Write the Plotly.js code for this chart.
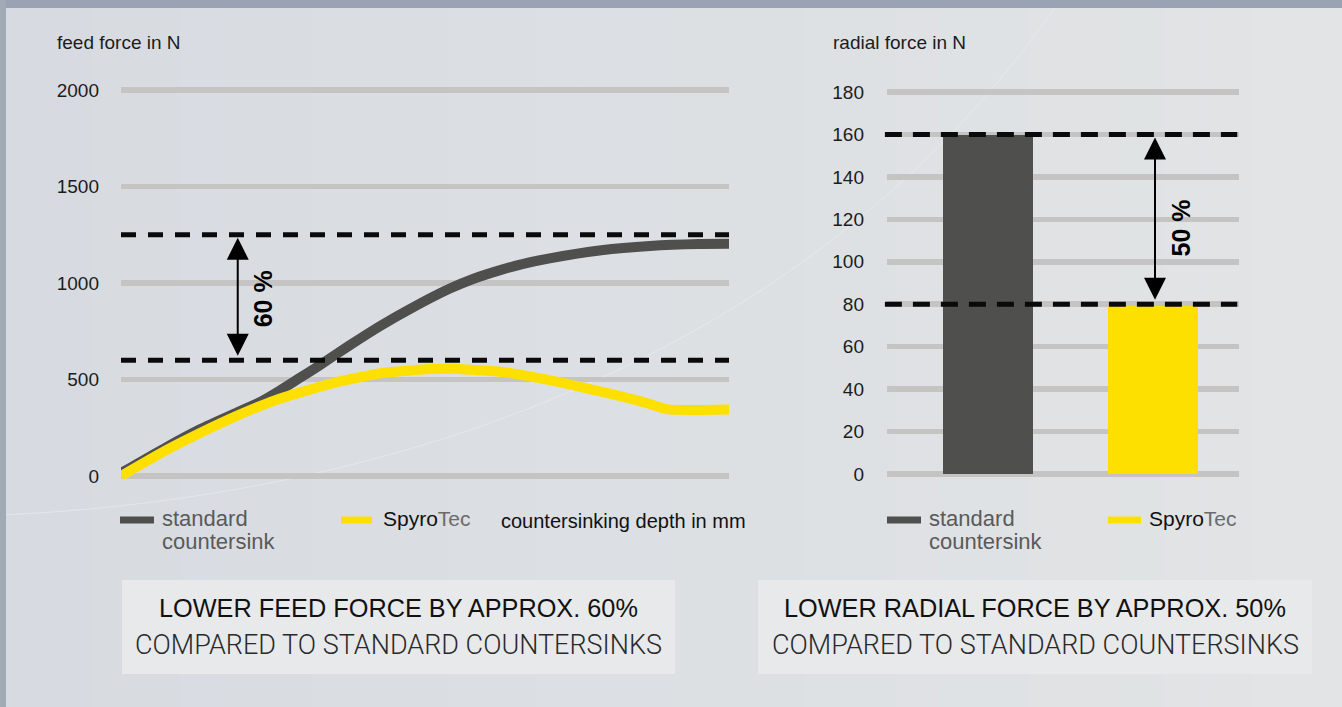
<!DOCTYPE html>
<html>
<head>
<meta charset="utf-8">
<script src="https://cdn.plot.ly/plotly-3.0.1.min.js"></script>
<style>
html,body{margin:0;padding:0;background:#dcdfe3;overflow:hidden;}
#chart{width:1342px;height:707px;}
</style>
</head>
<body>
<div id="chart"></div>
<script>
// ---------------- DATA ----------------
// Feed force vs countersinking depth (mm)
const depthStandard = [0, 0.75, 1.3, 1.95, 2.3, 2.6, 2.95, 3.25, 3.75, 4.25, 4.75, 5.4, 5.8, 6.25, 6.6, 7.05, 7.9, 8.7, 9.5, 10];
const feedStandard  = [15, 150, 242, 335, 385, 440, 510, 570, 675, 775, 865, 970, 1022, 1068, 1098, 1128, 1170, 1192, 1202, 1203];
const depthSpyro    = [0, 0.75, 1.3, 1.95, 2.55, 3.5, 4.3, 5.1, 5.4, 6.25, 7.05, 7.9, 8.4, 8.7, 9.0, 10];
const feedSpyro     = [0, 135, 223, 318, 394, 483, 534, 554, 556, 540, 497, 437, 399, 373, 345, 345];
const feedTicks     = [0, 500, 1000, 1500, 2000];
const feedRefLines  = [1250, 600];
const feedReduction = '60 %';

// Radial force bars
const radialCategories = ['standard countersink', 'SpyroTec'];
const radialValues     = [159.5, 79];
const radialTicks      = [0, 20, 40, 60, 80, 100, 120, 140, 160, 180];
const radialRefLines   = [160, 80];
const radialReduction  = '50 %';

// Texts
const feedAxisTitle   = 'feed force in N';
const radialAxisTitle = 'radial force in N';
const depthAxisTitle  = 'countersinking depth in mm';
const legendStandard  = ['standard', 'countersink'];
const legendSpyro     = 'Spyro<span style="color:#6b6b6b;font-weight:300">Tec</span>';
const feedBoxLines    = ['LOWER FEED FORCE BY APPROX. 60%', 'COMPARED TO STANDARD COUNTERSINKS'];
const radialBoxLines  = ['LOWER RADIAL FORCE BY APPROX. 50%', 'COMPARED TO STANDARD COUNTERSINKS'];

// ---------------- STYLE / LAYOUT ----------------
const W = 1342, H = 707;
const PX = x => x / W;          // pixel x -> paper
const PY = y => 1 - y / H;      // pixel y -> paper
const GRAY = '#4f4f4d', YELLOW = '#fde000';
const FONT = 'Liberation Sans, Arial, Helvetica, sans-serif';
const LIGHT = 'Roboto, Liberation Sans, sans-serif';
const GRID = '#c6c4c2';

const traces = [
  {type:'scatter', mode:'lines', x:depthStandard, y:feedStandard, xaxis:'x', yaxis:'y',
   line:{color:GRAY, width:10, shape:'spline', smoothing:0.6}, hoverinfo:'skip', showlegend:false},
  {type:'scatter', mode:'lines', x:depthSpyro, y:feedSpyro, xaxis:'x', yaxis:'y',
   line:{color:YELLOW, width:10, shape:'spline', smoothing:0.5}, hoverinfo:'skip', showlegend:false},
  {type:'bar', x:radialCategories, y:radialValues, xaxis:'x2', yaxis:'y2', width:0.545,
   marker:{color:[GRAY, YELLOW], line:{width:0}}, hoverinfo:'skip', showlegend:false}
];

const yDomain = [PY(495.3), PY(70.7)];
const axisY = {
  showline:false, zeroline:false, ticks:'', gridcolor:GRID, gridwidth:5.5,
  tickfont:{family:FONT, size:19, color:'#1c1c1c'}, fixedrange:true
};

const shapes = [];
const annotations = [];

// subtle background gradient (left bluish -> right lighter)
const NSTEP = 30, c0 = [215, 219, 225], c1 = [226, 228, 229];
for (let i = 0; i < NSTEP; i++) {
  const t = i / (NSTEP - 1);
  const c = c0.map((v, k) => Math.round(v + (c1[k] - v) * t));
  shapes.push({type:'rect', xref:'paper', yref:'paper', x0:i / NSTEP, x1:(i + 1) / NSTEP + 0.001, y0:0, y1:1,
    fillcolor:`rgb(${c.join(',')})`, line:{width:0}, layer:'below'});
}

// faint decorative arc
shapes.push({type:'path', xref:'paper', yref:'paper', layer:'below',
  path:`M ${PX(0)},${PY(515)} C ${PX(350)},${PY(500)} ${PX(800)},${PY(380)} ${PX(1060)},${PY(0)}`,
  line:{color:'rgba(240,243,247,0.45)', width:1}});

// frame border
shapes.push({type:'rect', xref:'paper', yref:'paper', x0:0, x1:1, y0:PY(8), y1:1, fillcolor:'#99a3b3', line:{width:0}, layer:'above'});
shapes.push({type:'rect', xref:'paper', yref:'paper', x0:0, x1:PX(6), y0:0, y1:1, fillcolor:'#a2aab8', line:{width:0}, layer:'above'});

// info boxes
[[122, 675], [758, 1312]].forEach(([a, b]) => {
  shapes.push({type:'rect', xref:'paper', yref:'paper', x0:PX(a), x1:PX(b), y0:PY(674), y1:PY(580),
    fillcolor:'#e8e9ea', line:{width:0}, layer:'below'});
});

// dashed reference lines
feedRefLines.forEach(v => shapes.push({type:'line', xref:'x domain', yref:'y', x0:0, x1:1, y0:v, y1:v,
  line:{color:'#0a0a0a', width:5, dash:'15px,12px'}, layer:'above'}));
radialRefLines.forEach(v => shapes.push({type:'line', xref:'x2 domain', yref:'y2', x0:-0.006, x1:0.995, y0:v, y1:v,
  line:{color:'#0a0a0a', width:5, dash:'17px,11px'}, layer:'above'}));

// arrows
function arrow(xr, yr, x, top, bottom) {
  annotations.push({xref:xr, yref:yr, axref:xr, ayref:yr, x:x, y:top, ax:x, ay:bottom, text:'',
    showarrow:true, arrowhead:2, startarrowhead:2, arrowside:'end+start', arrowsize:2.2, startarrowsize:2.2,
    arrowwidth:2, arrowcolor:'#000', standoff:3, startstandoff:3});
}
arrow('x', 'y', 1.92, feedRefLines[0], feedRefLines[1]);
arrow('x2', 'y2', 1.012, radialRefLines[0], radialRefLines[1]);
annotations.push({xref:'x', yref:'y', x:2.34, y:917, text:'<b>'+feedReduction+'</b>', textangle:-90, showarrow:false,
  font:{family:FONT, size:25, color:'#000'}});
annotations.push({xref:'x2', yref:'y2', x:1.167, y:116, text:'<b>'+radialReduction+'</b>', textangle:-90, showarrow:false,
  font:{family:FONT, size:25, color:'#000'}});

// axis titles
function label(x, y, text, size, color, anchor, extra) {
  annotations.push(Object.assign({xref:'paper', yref:'paper', x:PX(x), y:PY(y), text:text, showarrow:false,
    xanchor:anchor || 'left', yanchor:'middle', font:{family:FONT, size:size, color:color}}, extra || {}));
}
label(55, 42, feedAxisTitle, 19, '#1c1c1c');
label(831, 42, radialAxisTitle, 19, '#1c1c1c');
label(499, 521, depthAxisTitle, 20, '#111');

// legends
function legend(swX0, swX1, textX, spyroSwX0, spyroSwX1, spyroTextX) {
  shapes.push({type:'line', xref:'paper', yref:'paper', x0:PX(swX0), x1:PX(swX1), y0:PY(520), y1:PY(520),
    line:{color:GRAY, width:7}});
  shapes.push({type:'line', xref:'paper', yref:'paper', x0:PX(spyroSwX0), x1:PX(spyroSwX1), y0:PY(520), y1:PY(520),
    line:{color:YELLOW, width:7}});
  label(textX, 518, legendStandard[0], 22, '#5a5a5a');
  label(textX, 541, legendStandard[1], 22, '#5a5a5a');
  label(spyroTextX, 518, legendSpyro, 21, '#111');
}
legend(120, 154, 160, 341, 372, 381);
legend(887, 921, 927, 1108, 1141, 1147);

// box texts
[[feedBoxLines, 398.5], [radialBoxLines, 1035]].forEach(([lines, cx]) => {
  label(cx, 608, lines[0], 25.3, '#111', 'center');
  annotations.push({xref:'paper', yref:'paper', x:PX(cx), y:PY(645), text:lines[1], showarrow:false,
    xanchor:'center', yanchor:'middle', font:{family:LIGHT, size:27, color:'#2a2a2a', weight:300}});
});

const layout = {
  width:W, height:H, margin:{l:0, r:0, t:0, b:0},
  paper_bgcolor:'#dcdfe3', plot_bgcolor:'rgba(0,0,0,0)',
  showlegend:false, bargap:0,
  xaxis:{domain:[PX(121), PX(729)], range:[0, 10], visible:false, fixedrange:true},
  yaxis:Object.assign({}, axisY, {domain:yDomain, range:[-100, 2100], tickvals:feedTicks, ticklabelstandoff:21}),
  xaxis2:{domain:[PX(887), PX(1239)], range:[-0.612, 1.521], visible:false, type:'category', fixedrange:true},
  yaxis2:Object.assign({}, axisY, {domain:yDomain, range:[-10, 190], tickvals:radialTicks, anchor:'x2', ticklabelstandoff:22}),
  shapes:shapes, annotations:annotations
};

Plotly.newPlot('chart', traces, layout, {staticPlot:true, displayModeBar:false});
</script>
</body>
</html>
